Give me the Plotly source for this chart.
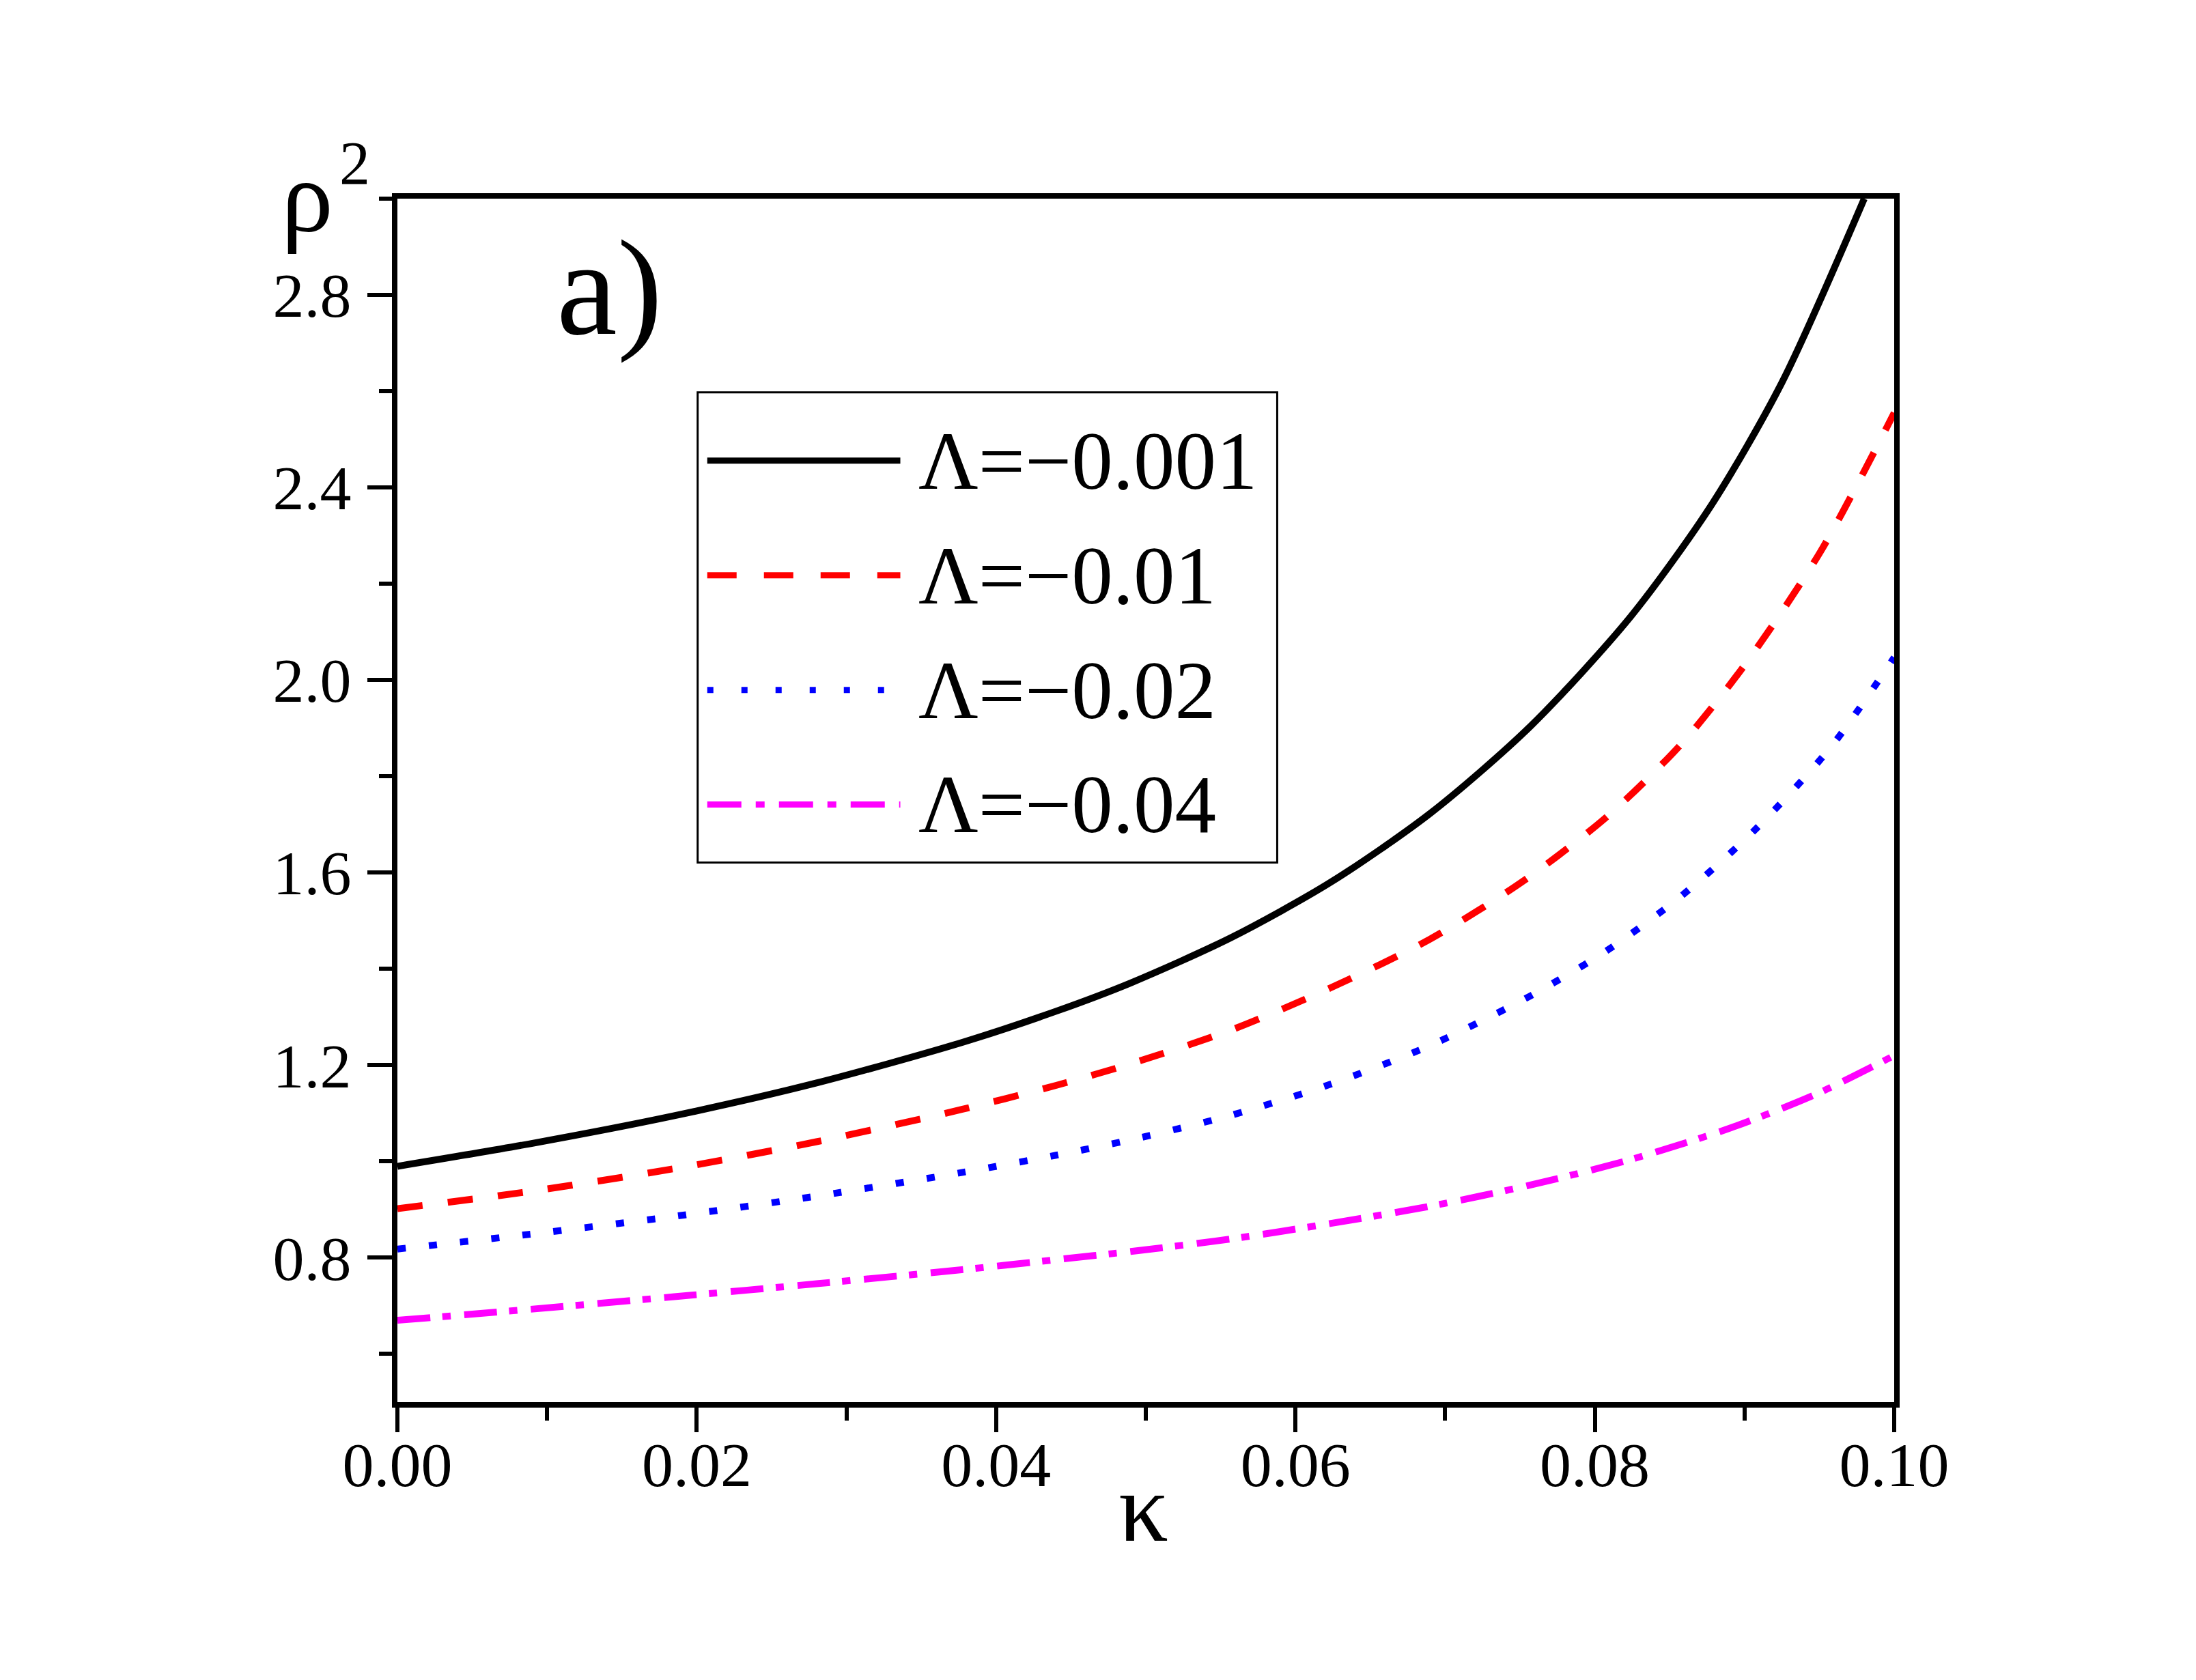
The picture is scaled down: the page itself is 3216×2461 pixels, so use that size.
import plotly.graph_objects as go

# values (kappa, rho^2)
x_l001 = [0, 0.0089, 0.0185, 0.028, 0.0377, 0.044, 0.049, 0.0557, 0.0623, 0.069, 0.0757, 0.0824, 0.0878, 0.0925, 0.098]
y_l001 = [0.99, 1.037, 1.095, 1.163, 1.247, 1.312, 1.371, 1.465, 1.579, 1.723, 1.904, 2.132, 2.364, 2.618, 3.0]

x_l01 = [0, 0.0089, 0.0185, 0.028, 0.0377, 0.044, 0.049, 0.0557, 0.0623, 0.069, 0.0751, 0.0808, 0.0858, 0.0901, 0.0951, 0.1]
y_l01 = [0.902, 0.938, 0.985, 1.041, 1.108, 1.158, 1.203, 1.273, 1.36, 1.462, 1.58, 1.716, 1.868, 2.035, 2.268, 2.555]

x_l02 = [0, 0.0089, 0.0185, 0.028, 0.0377, 0.044, 0.049, 0.0557, 0.0623, 0.069, 0.0757, 0.0808, 0.0858, 0.0908, 0.0958, 0.1]
y_l02 = [0.818, 0.849, 0.886, 0.928, 0.977, 1.013, 1.045, 1.096, 1.16, 1.241, 1.344, 1.438, 1.552, 1.692, 1.862, 2.047]

x_l04 = [0, 0.0089, 0.0185, 0.028, 0.0377, 0.044, 0.049, 0.0557, 0.0623, 0.069, 0.0757, 0.0824, 0.0891, 0.0948, 0.1]
y_l04 = [0.67, 0.693, 0.719, 0.746, 0.775, 0.796, 0.813, 0.839, 0.871, 0.907, 0.951, 1.004, 1.07, 1.14, 1.22]

labels = ["Λ=−0.001", "Λ=−0.01", "Λ=−0.02", "Λ=−0.04"]
colors = ["black", "red", "blue", "magenta"]
curve_dash = ["solid", "37px,37px", "12px,34px", "48px,18px,12px,20px"]
legend_dash = ["solid", "43px,40px", "9px,41px", "50px,21px,13px,21px"]

FONT = "Liberation Serif, Times New Roman, serif"

fig = go.Figure()
series = [(x_l001, y_l001), (x_l01, y_l01), (x_l02, y_l02), (x_l04, y_l04)]
for (xs, ys), name, c, d in zip(series, labels, colors, curve_dash):
    fig.add_trace(go.Scatter(x=xs, y=ys, mode='lines', name=name,
                             line=dict(color=c, width=10, dash=d, shape='spline', smoothing=0.8),
                             showlegend=False))

# hand-made legend box (long line samples like the original)
fig.add_shape(type='rect', xref='paper', yref='paper', x0=0.2006, x1=0.5878, y0=0.4484, y1=0.839,
              line=dict(color='black', width=3), fillcolor='white', layer='below')
row_y = [0.7823, 0.687, 0.5918, 0.4966]
for yy, name, c, d in zip(row_y, labels, colors, legend_dash):
    fig.add_shape(type='line', xref='paper', yref='paper', x0=0.207, x1=0.336, y0=yy, y1=yy,
                  line=dict(color=c, width=9, dash=d))
    fig.add_annotation(xref='paper', yref='paper', x=0.347, y=yy, xanchor='left', yanchor='middle',
                       text=name, showarrow=False, font=dict(family=FONT, size=121, color='black'))

fig.add_annotation(xref='paper', yref='paper', x=0.1053, y=0.862, xanchor='left', yanchor='bottom',
                   text="a)", showarrow=False, font=dict(family=FONT, size=200, color='black'))
# y title: rho with a raised 2
fig.add_annotation(xref='paper', yref='paper', x=-0.0785, y=0.953, xanchor='left', yanchor='bottom',
                   text="ρ", showarrow=False, font=dict(family=FONT, size=152, color='black'))
fig.add_annotation(xref='paper', yref='paper', x=-0.0395, y=1.0, xanchor='left', yanchor='bottom',
                   text="2", showarrow=False, font=dict(family=FONT, size=90, color='black'))
fig.add_annotation(xref='paper', yref='paper', x=0.4986, y=-0.134, xanchor='center', yanchor='bottom',
                   text="κ", showarrow=False, font=dict(family=FONT, size=145, color='black'))

fig.update_xaxes(range=[0, 0.1], tick0=0, dtick=0.02, tickformat='.2f',
                 ticks='outside', ticklen=36, tickwidth=6, tickcolor='black',
                 minor=dict(dtick=0.01, ticks='outside', ticklen=19, tickwidth=6, tickcolor='black'),
                 showline=True, linewidth=8, linecolor='black', mirror=True,
                 showgrid=False, zeroline=False, ticklabelstandoff=-31,
                 tickfont=dict(family=FONT, size=92, color='black'))
fig.update_yaxes(range=[0.5, 3.0], tick0=0, dtick=0.4, tickformat='.1f',
                 ticks='outside', ticklen=36, tickwidth=6, tickcolor='black',
                 minor=dict(dtick=0.2, ticks='outside', ticklen=19, tickwidth=6, tickcolor='black'),
                 showline=True, linewidth=8, linecolor='black', mirror=True,
                 showgrid=False, zeroline=False, ticklabelstandoff=5,
                 tickfont=dict(family=FONT, size=92, color='black'))

fig.update_layout(width=3216, height=2461, plot_bgcolor='white', paper_bgcolor='white',
                  font=dict(family=FONT, color='black'),
                  margin=dict(l=574, r=450, t=283, b=415), showlegend=False)

fig.write_html("out.html")
